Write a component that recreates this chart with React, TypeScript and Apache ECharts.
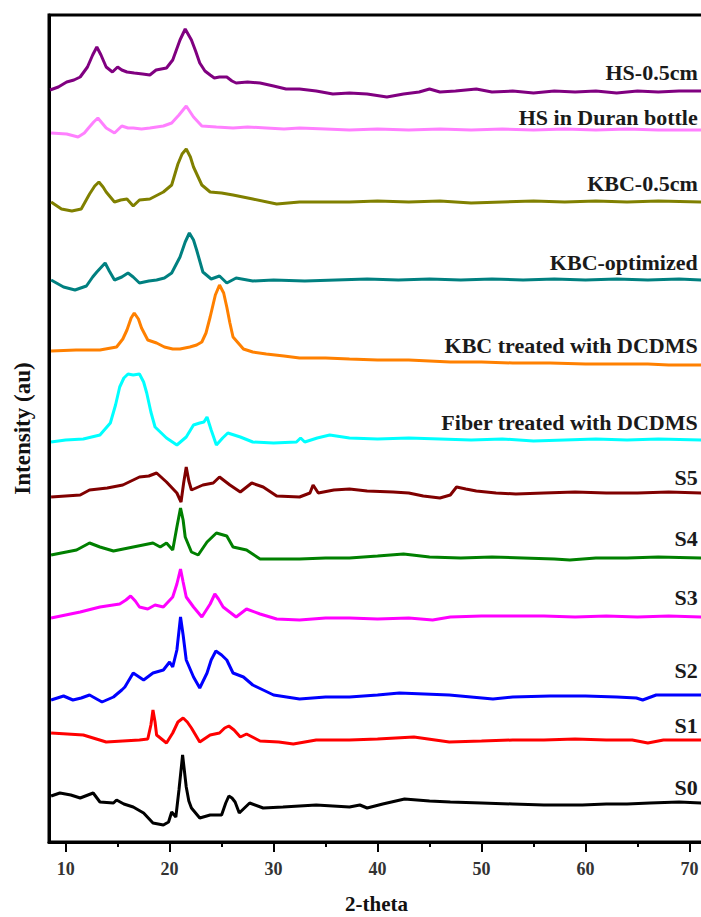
import React, { useEffect, useRef } from "react";
import * as echarts from "echarts";

// ---------- data (2-theta, intensity above each pattern's own baseline) ----------
const seriesNames = [
  "HS-0.5cm",
  "HS in Duran bottle",
  "KBC-0.5cm",
  "KBC-optimized",
  "KBC treated with DCDMS",
  "Fiber treated with DCDMS",
  "S5",
  "S4",
  "S3",
  "S2",
  "S1",
  "S0",
];

const seriesColors = [
  "#800080",
  "#ff80ff",
  "#808000",
  "#008080",
  "#ff8000",
  "#00ffff",
  "#800000",
  "#008000",
  "#ff00ff",
  "#0000ff",
  "#ff0000",
  "#000000",
];

// vertical stacking offsets (arbitrary units)
const stackOffsets = [749, 712, 640, 562, 477, 402, 349, 284, 225, 147, 102, 39];
// label height above each baseline (arbitrary units)
const labelRaise = [21, 13, 19, 18, 20, 18, 16, 20, 20, 25, 15, 16];

const hs05 = [
  [8.5, 3], [9.3, 6], [10.1, 11], [10.8, 13], [11.4, 16], [12.1, 26], [12.6, 38], [13.0, 46], [13.4, 38],
  [13.9, 26], [14.5, 21], [15.0, 26], [15.4, 23], [15.9, 21], [16.6, 20], [17.4, 19], [18.1, 18], [18.7, 23],
  [19.7, 25], [20.3, 33], [21.0, 53], [21.5, 64], [22.1, 53], [22.5, 42], [22.9, 30], [23.4, 22], [23.9, 18],
  [24.3, 15], [24.8, 16], [25.5, 16], [26.0, 12], [26.4, 10], [27.5, 11], [28.7, 10], [30.0, 7], [31.2, 4],
  [32.5, 4], [34.1, 2], [35.7, -1], [37.3, 0], [39.0, -1], [40.9, -4], [42.5, -1], [44.0, 1], [45.0, 4],
  [46.0, 1], [47.5, 2], [49.5, 4], [51.0, 1], [53.0, 2], [55.0, 0], [57.0, 2], [59.0, 1], [61.0, 2],
  [63.0, 0], [65.0, 2], [67.0, 1], [69.0, 2], [71.4, 2],
];

const hsDuran = [
  [8.6, -3], [10.1, -4], [11.2, -7], [11.8, -3], [12.2, 2], [12.7, 8], [13.1, 12], [13.5, 7], [13.9, 2],
  [14.7, -3], [15.4, 4], [16.0, 2], [16.5, 2], [17.3, 1], [18.1, 2], [19.4, 4], [20.2, 7], [20.9, 15],
  [21.6, 24], [22.3, 13], [23.1, 4], [24.5, 3], [26.1, 2], [27.5, 3], [29.3, 2], [31.0, 1], [32.5, 2],
  [35.0, 1], [37.3, 0], [40, 1], [43, 0], [46, 1], [49, 0], [52, 1], [55, 0], [58, 1], [61, 0], [64, 1],
  [67, 0], [71.4, 0],
];

const kbc05 = [
  [8.6, 0], [9.6, -7], [10.6, -9], [11.5, -7], [12.3, 8], [12.8, 16], [13.2, 20], [13.6, 15], [13.9, 10],
  [14.7, 0], [15.3, 2], [15.9, 3], [16.5, -4], [17.1, 2], [18.1, 3], [19.4, 10], [20.2, 17], [20.8, 38],
  [21.2, 48], [21.6, 53], [22.0, 45], [22.3, 35], [23.1, 17], [23.9, 10], [25.0, 9], [26.1, 7], [28.0, 3],
  [30.3, -2], [32.5, 0], [35, 0], [37.3, 0], [40, 1], [43, 0], [46, 1], [49, -1], [52, 0], [55, 1], [58, 0],
  [61, 1], [64, 0], [67, 1], [71.4, 0],
];

const kbcOpt = [
  [8.6, 0], [9.8, -7], [10.9, -10], [12.0, -6], [12.6, 3], [13.0, 8], [13.8, 17], [14.2, 9], [14.7, 0],
  [15.4, 3], [16.0, 7], [16.5, 3], [17.1, -3], [18.0, -1], [18.75, 0], [19.5, 2], [20.2, 7], [21.0, 23],
  [21.5, 38], [21.9, 47], [22.3, 40], [22.6, 30], [23.2, 8], [24.0, 1], [24.8, 4], [25.5, -3], [26.4, 2],
  [28.0, -1], [30, 0], [33, -1], [36, 0], [39, 1], [42, 0], [45, 1], [48, 0], [51, 1], [54, 0], [57, 1],
  [60, 0], [63, 1], [66, 0], [69, 1], [71.4, 0],
];

const kbcDcdms = [
  [8.6, 14], [11, 15], [13.3, 15], [14.9, 18], [15.5, 26], [15.9, 35], [16.3, 47], [16.6, 52], [17.0, 46],
  [17.3, 37], [17.9, 25], [18.75, 22], [19.5, 18], [20.3, 16], [21.0, 16], [21.95, 18], [22.6, 20],
  [23.1, 23], [23.5, 32], [23.9, 48], [24.4, 70], [24.8, 80], [25.2, 72], [25.5, 58], [25.8, 42], [26.1, 28],
  [27.1, 16], [28.0, 13], [29.3, 11], [31, 9], [32.5, 7], [35, 7], [37.3, 6], [40, 5], [43, 5], [47.0, 3],
  [50, 3], [53, 2], [56.6, 2], [60, 1], [63, 1], [66, 1], [68, 0], [71.4, 0],
];

const fiberDcdms = [
  [8.6, -2], [10, 0], [11.7, 1], [13.3, 5], [14.3, 17], [14.8, 35], [15.2, 53], [15.6, 62], [16.0, 66],
  [16.5, 65], [17.1, 66], [17.5, 58], [17.8, 47], [18.2, 28], [18.6, 13], [19.7, 2], [20.7, -5], [21.6, 3],
  [22.3, 15], [22.9, 17], [23.3, 18], [23.6, 23], [24.0, 10], [24.5, -5], [25.1, 2], [25.6, 7], [26.8, 3],
  [28.0, -2], [30.0, -3], [32.2, -2], [32.6, 2], [33.0, -2], [34.2, 2], [35.4, 5], [37.3, 2], [40, 1],
  [43, 2], [46, 1], [49, 0], [52, 1], [55, -1], [58, 0], [61, 1], [64, 0], [67, 1], [71.4, 0],
];

const s5 = [
  [8.6, -4], [11.4, -2], [12.3, 3], [14, 5], [15.5, 8], [16.3, 12], [17.1, 16], [18.0, 17], [18.75, 20],
  [19.7, 11], [20.7, 0], [21.1, -9], [21.35, 10], [21.6, 26], [21.85, 12], [22.1, 3], [23.2, 8], [24.2, 10],
  [24.8, 16], [25.8, 8], [26.8, 1], [27.9, 10], [29.0, 6], [30.3, -3], [32.5, -4], [33.5, 0], [33.8, 8],
  [34.3, 0], [35.8, 3], [37.3, 4], [39, 2], [41.5, 1], [43, 0], [44.4, -3], [46.0, -5], [47.0, -2],
  [47.6, 6], [48.5, 4], [49.5, 2], [51.4, 0], [53.3, -1], [56, 0], [59, 1], [62, 0], [65, 0], [68, 1],
  [71.4, 0],
];

const s4 = [
  [8.6, 3], [11.05, 8], [12.3, 15], [13.3, 11], [14.6, 7], [16.5, 11], [18.4, 15], [19.1, 11], [19.7, 15],
  [20.3, 8], [20.7, 31], [21.05, 50], [21.3, 38], [21.5, 21], [22.1, 6], [22.75, 3], [23.6, 16], [24.5, 25],
  [25.5, 22], [26.1, 11], [27.4, 8], [28.7, -1], [30.3, -1], [32.5, -1], [35, 0], [37.3, 0], [40, 2],
  [42.5, 4], [45, 1], [48, 0], [51, 1], [54, 0], [57, -1], [58.5, -2], [61, 0], [64, 0], [67, 1], [71.4, 0],
];

const s3 = [
  [8.6, -1], [11.4, 5], [13.3, 10], [15.2, 13], [15.8, 17], [16.25, 21], [16.7, 16], [17.1, 10], [17.9, 8],
  [18.6, 12], [19.4, 10], [20.3, 20], [20.7, 33], [21.05, 48], [21.3, 35], [21.6, 20], [22.3, 10], [23.1, 0],
  [23.9, 13], [24.35, 23], [24.7, 18], [25.15, 10], [26.4, 0], [27.4, 8], [28.7, 3], [30.3, -2], [32.5, -3],
  [35, -1], [37.3, -1], [40, -2], [43, -1], [45.3, -3], [47, 0], [50, 1], [53, 1], [56, 1], [59, 0],
  [62, 1], [65, 0], [68, 1], [71.4, 0],
];

const s2 = [
  [8.6, -5], [9.8, -1], [10.7, -5], [11.5, -3], [12.3, 0], [13.5, -7], [14.6, -2], [15.4, 5], [15.7, 8],
  [16.5, 22], [17.5, 15], [18.4, 22], [19.4, 25], [20.0, 33], [20.3, 28], [20.7, 45], [21.05, 78],
  [21.3, 60], [21.6, 35], [22.3, 18], [22.9, 7], [23.6, 22], [24.0, 35], [24.45, 44], [25.0, 40],
  [25.5, 35], [26.1, 22], [27.1, 18], [28.0, 10], [29.0, 5], [30.0, 0], [32.5, -4], [35, -2], [37.3, -2],
  [40, 0], [42.1, 2], [44.5, 1], [46.9, 0], [49, -2], [51.1, -4], [53, -2], [56.6, -1], [60, -1], [63, -2],
  [64.9, -3], [65.5, -5], [66.8, 0], [69, 0], [71.4, 0],
];

const s1 = [
  [8.6, 7], [11.7, 5], [13.9, -2], [15.5, -1], [17.1, 0], [17.9, 1], [18.2, 15], [18.4, 30], [18.6, 18],
  [18.75, 5], [19.7, -3], [20.3, 7], [20.8, 18], [21.3, 22], [21.7, 18], [22.1, 12], [22.9, -2], [23.9, 5],
  [24.8, 7], [25.3, 12], [25.7, 14], [26.2, 10], [26.8, 3], [27.4, 6], [28.7, -1], [30.5, -2], [31.9, -4],
  [34.1, 0], [37.3, 0], [40, 1], [43.5, 3], [46.9, -2], [50, -1], [53, 0], [56, 0], [59, 1], [62, 0],
  [64.5, 0], [66.0, -3], [67.5, 0], [71.4, 0],
];

const s0 = [
  [8.6, 7], [9.45, 10], [10.5, 8], [11.4, 5], [12.65, 10], [13.3, 1], [14.6, 0], [14.9, 3], [15.6, -1],
  [16.5, -4], [17.5, -10], [18.4, -20], [19.4, -22], [19.9, -19], [20.2, -9], [20.6, -14], [20.9, 13],
  [21.25, 48], [21.6, 16], [21.85, 2], [22.1, -5], [22.9, -15], [23.9, -12], [25.0, -12], [25.4, 0],
  [25.7, 7], [26.0, 5], [26.3, 1], [26.7, -10], [27.7, 0], [29.0, -5], [30.9, -4], [34.1, -2], [37.3, -4],
  [38.3, -2], [39.0, -5], [40.5, -1], [42.6, 4], [45, 2], [47, 1], [50, 0], [53, -1], [56, -2], [59.7, -2],
  [62, -1], [64, -1], [66.2, 0], [69, 1], [71.4, 0],
];

const seriesData = [hs05, hsDuran, kbc05, kbcOpt, kbcDcdms, fiberDcdms, s5, s4, s3, s2, s1, s0];

const majorTicks = [10, 20, 30, 40, 50, 60, 70];
const minorTicks = [15, 25, 35, 45, 55, 65];

const X_MIN = 8.4;
const X_MAX = 71.4;
const Y_MIN = 0;
const Y_MAX = 827;
const LABEL_X = 70.8;

const FONT = "'Liberation Serif', 'Times New Roman', serif";

export default function App() {
  const ref = useRef<HTMLDivElement>(null);

  useEffect(() => {
    if (!ref.current) return;
    const chart = echarts.init(ref.current, null, { renderer: "svg" });

    const series = seriesData.map((pts, i) => ({
      type: "line",
      name: seriesNames[i],
      data: pts.map(([x, y]) => [x, y + stackOffsets[i]]),
      showSymbol: false,
      symbol: "none",
      smooth: false,
      lineStyle: { color: seriesColors[i], width: 3 },
      itemStyle: { color: seriesColors[i] },
      z: 3,
      markPoint: {
        symbol: "circle",
        symbolSize: 0,
        silent: true,
        data: [
          {
            coord: [LABEL_X, stackOffsets[i] + labelRaise[i]],
            value: seriesNames[i],
          },
        ],
        label: {
          show: true,
          position: "left",
          distance: 0,
          formatter: seriesNames[i],
          fontFamily: FONT,
          fontWeight: "bold",
          fontSize: 22,
          color: "#1a1a1a",
        },
      },
    }));

    chart.setOption({
      animation: false,
      backgroundColor: "#ffffff",
      grid: {
        left: 49,
        top: 15,
        width: 655,
        height: 827,
        show: true,
        borderColor: "#000",
        borderWidth: 3,
        backgroundColor: "transparent",
        containLabel: false,
        outerBoundsMode: "none",
      },
      xAxis: [
        {
          type: "value",
          min: X_MIN,
          max: X_MAX,
          position: "bottom",
          axisLine: { show: true, onZero: false, lineStyle: { color: "#000", width: 3 } },
          axisTick: {
            show: true,
            customValues: majorTicks,
            length: 10,
            lineStyle: { color: "#000", width: 2 },
          },
          axisLabel: {
            show: true,
            customValues: majorTicks,
            margin: 18,
            fontFamily: FONT,
            fontWeight: "bold",
            fontSize: 18,
            color: "#333",
          },
          splitLine: { show: false },
          name: "2-theta",
          nameLocation: "middle",
          nameGap: 51,
          nameTextStyle: {
            fontFamily: FONT,
            fontWeight: "bold",
            fontSize: 21,
            color: "#111",
          },
        },
        {
          type: "value",
          min: X_MIN,
          max: X_MAX,
          position: "bottom",
          axisLine: { show: false },
          axisTick: {
            show: true,
            customValues: minorTicks,
            length: 5,
            lineStyle: { color: "#000", width: 2 },
          },
          axisLabel: { show: false, customValues: minorTicks },
          splitLine: { show: false },
        },
      ],
      yAxis: {
        type: "value",
        min: Y_MIN,
        max: Y_MAX,
        axisLine: { show: true, onZero: false, lineStyle: { color: "#000", width: 3 } },
        axisTick: { show: false },
        axisLabel: { show: false },
        splitLine: { show: false },
        name: "Intensity (au)",
        nameLocation: "middle",
        nameGap: 15,
        nameTextStyle: {
          fontFamily: FONT,
          fontWeight: "bold",
          fontSize: 23,
          color: "#111",
        },
      },
      series,
    });

    return () => chart.dispose();
  }, []);

  return (
    <div
      ref={ref}
      style={{ position: "absolute", left: 0, top: 0, width: 701, height: 917 }}
    />
  );
}
